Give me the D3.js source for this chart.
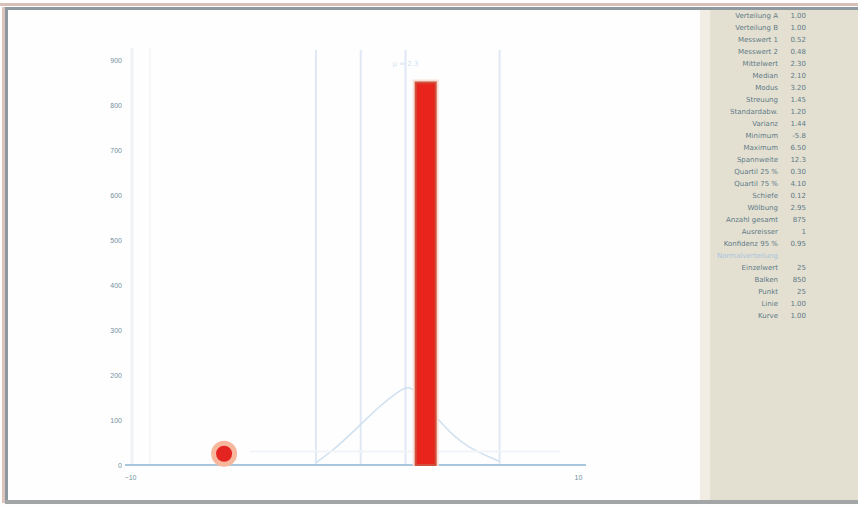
<!DOCTYPE html>
<html>
<head>
<meta charset="utf-8">
<script src="https://cdn.jsdelivr.net/npm/d3@7"></script>
<style>
  body { margin: 0; background: #fff; }
  svg { display: block; font-family: "DejaVu Sans", sans-serif; }
</style>
</head>
<body>
<svg id="chart" width="858" height="507"></svg>
<script>
// data (values estimated, text is very blurry)
var yTicks = [0, 100, 200, 300, 400, 500, 600, 700, 800, 900];
var xTicks = [-10, 10];
var bars = [{ x: 3.2, value: 850 }];
var points = [{ x: -5.8, value: 25 }];
var markerLines = [-1.7, 0.3, 2.3, 6.5];
var curveX = [-1.7, -1, 0, 1, 2, 2.5, 3, 4, 5, 6.5];
var curveY = [5, 30, 75, 125, 165, 178, 150, 85, 40, 8];
var legendNames = [
  'Verteilung A', 'Verteilung B', 'Messwert 1', 'Messwert 2', 'Mittelwert',
  'Median', 'Modus', 'Streuung', 'Standardabw.', 'Varianz', 'Minimum',
  'Maximum', 'Spannweite', 'Quartil 25 %', 'Quartil 75 %', 'Schiefe',
  'Wölbung', 'Anzahl gesamt', 'Ausreisser', 'Konfidenz 95 %',
  'Normalverteilung', 'Einzelwert', 'Balken', 'Punkt', 'Linie', 'Kurve'
];
var legendValues = [
  '1.00', '1.00', '0.52', '0.48', '2.30', '2.10', '3.20', '1.45', '1.20',
  '1.44', '-5.8', '6.50', '12.3', '0.30', '4.10', '0.12', '2.95', '875',
  '1', '0.95', '', '25', '850', '25', '1.00', '1.00'
];
var legendHeaderIndex = 20;

(function() {
  var svg = d3.select('#chart');
  var W = 858, H = 507;
  var m = { left: 130, right: 578, top: 60, bottom: 465 };

  // window frame
  svg.append('rect').attr('x', 0).attr('y', 0).attr('width', W).attr('height', H).attr('fill', '#fefefe');
  svg.append('rect').attr('x', 0).attr('y', 3).attr('width', W).attr('height', 3).attr('fill', '#d8c0b8');
  svg.append('rect').attr('x', 5).attr('y', 7).attr('width', W - 5).attr('height', 3).attr('fill', '#8d999e');
  svg.append('rect').attr('x', 5).attr('y', 7).attr('width', 3).attr('height', 496).attr('fill', '#8d999e');
  svg.append('rect').attr('x', 2).attr('y', 7).attr('width', 3).attr('height', 496).attr('fill', '#dcc4bc');
  svg.append('rect').attr('x', 5).attr('y', 500).attr('width', W - 5).attr('height', 4).attr('fill', '#a3a6a6');

  // right side panel
  svg.append('rect').attr('x', 700).attr('y', 10).attr('width', 10).attr('height', 490).attr('fill', '#f1ede4');
  svg.append('rect').attr('x', 710).attr('y', 10).attr('width', 148).attr('height', 490).attr('fill', '#e3e0d2');

  var x = d3.scaleLinear().domain([-10, 10]).range([m.left, m.right]);
  var y = d3.scaleLinear().domain([0, 900]).range([m.bottom, m.top]);

  var g = svg.append('g');

  // faint frame lines of plot
  g.append('line').attr('x1', m.left + 2).attr('x2', m.left + 2).attr('y1', 48).attr('y2', m.bottom)
    .attr('stroke', '#f0f1f3').attr('stroke-width', 3);
  g.append('line').attr('x1', 150).attr('x2', 150).attr('y1', 48).attr('y2', m.bottom)
    .attr('stroke', '#f6f7f8').attr('stroke-width', 2);

  // marker lines
  g.selectAll('line.marker').data(markerLines).enter().append('line')
    .attr('class', 'marker')
    .attr('x1', function(d) { return x(d); }).attr('x2', function(d) { return x(d); })
    .attr('y1', 50).attr('y2', m.bottom)
    .attr('stroke', '#dfe8f4').attr('stroke-width', 2);

  // faint label above marker lines
  g.append('text').attr('x', x(2.3)).attr('y', 66).attr('text-anchor', 'middle')
    .attr('font-size', 7).attr('fill', '#d0e2f1').text('μ = 2.3');

  // distribution curve
  var curveData = curveX.map(function(d, i) { return [d, curveY[i]]; });
  g.append('path').datum(curveData)
    .attr('fill', 'none').attr('stroke', '#cfe0f0').attr('stroke-width', 1.5)
    .attr('d', d3.line().curve(d3.curveBasis)
      .x(function(d) { return x(d[0]); })
      .y(function(d) { return y(d[1]); }));

  // faint horizontal line near baseline
  g.append('line').attr('x1', 250).attr('x2', 560).attr('y1', y(30)).attr('y2', y(30))
    .attr('stroke', '#f1f4f8').attr('stroke-width', 2);

  // y axis
  var yAxis = g.append('g').attr('transform', 'translate(' + (m.left - 5) + ',0)')
    .call(d3.axisLeft(y).tickValues(yTicks).tickSize(0).tickPadding(3));
  yAxis.select('.domain').remove();
  yAxis.selectAll('text').attr('font-size', 7).attr('fill', '#7390a0');

  // x axis line
  g.append('line').attr('x1', m.left - 5).attr('x2', m.right + 8).attr('y1', m.bottom).attr('y2', m.bottom)
    .attr('stroke', '#a9c7dc').attr('stroke-width', 2);

  var xAxis = g.append('g').attr('transform', 'translate(0,' + (m.bottom + 8) + ')')
    .call(d3.axisBottom(x).tickValues(xTicks).tickSize(0).tickPadding(2));
  xAxis.select('.domain').remove();
  xAxis.selectAll('text').attr('font-size', 7).attr('fill', '#7390a0');

  // bars
  g.selectAll('rect.bar-glow').data(bars).enter().append('rect')
    .attr('x', function(d) { return x(d.x) - 13; })
    .attr('y', function(d) { return y(d.value) - 3; })
    .attr('width', 26)
    .attr('height', function(d) { return m.bottom - y(d.value) + 4; })
    .attr('fill', '#f9e0d6');
  g.selectAll('rect.bar').data(bars).enter().append('rect')
    .attr('class', 'bar')
    .attr('x', function(d) { return x(d.x) - 10; })
    .attr('y', function(d) { return y(d.value); })
    .attr('width', 20)
    .attr('height', function(d) { return m.bottom - y(d.value); })
    .attr('fill', '#e8241d')
    .attr('stroke', '#d0503e').attr('stroke-width', 2);

  // points
  g.selectAll('circle.glow').data(points).enter().append('circle')
    .attr('cx', function(d) { return x(d.x); }).attr('cy', function(d) { return y(d.value); })
    .attr('r', 13).attr('fill', '#f6b79c');
  g.selectAll('circle.pt').data(points).enter().append('circle')
    .attr('cx', function(d) { return x(d.x); }).attr('cy', function(d) { return y(d.value); })
    .attr('r', 8).attr('fill', '#e32420');

  // legend
  var leg = svg.append('g').attr('font-size', 7);
  var rowY = d3.scaleLinear().domain([0, 1]).range([18, 30]);
  legendNames.forEach(function(name, i) {
    var header = i === legendHeaderIndex;
    var row = leg.append('g').attr('transform', 'translate(0,' + rowY(i) + ')');
    row.append('text').attr('x', 778).attr('text-anchor', 'end')
      .attr('fill', header ? '#a8c4dc' : '#5f7a86').text(name);
    row.append('text').attr('x', 806).attr('text-anchor', 'end')
      .attr('fill', header ? '#a8c4dc' : '#5f7a86').text(legendValues[i]);
  });
})();
</script>
</body>
</html>
